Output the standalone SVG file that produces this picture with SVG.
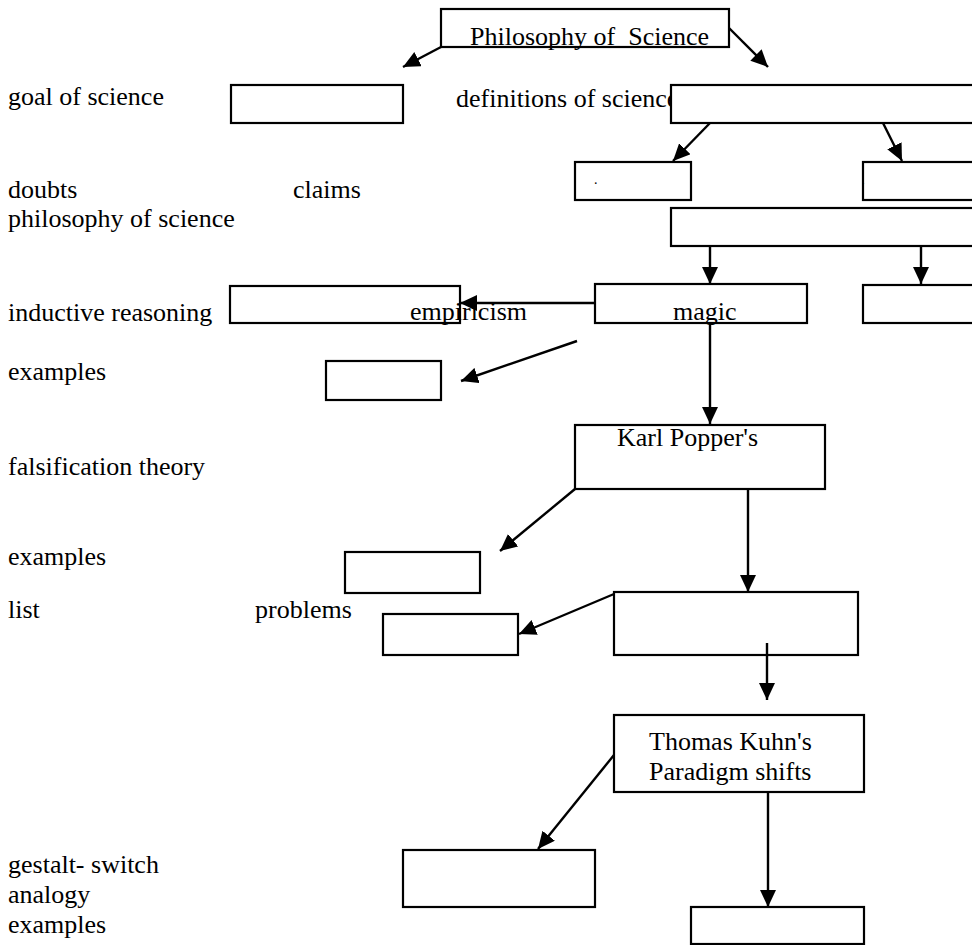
<svg xmlns="http://www.w3.org/2000/svg" width="972" height="945" viewBox="0 0 972 945">
<style>
  rect.box { fill: #ffffff; stroke: #000000; stroke-width: 2.2; }
  text { font-family: 'Liberation Serif', 'Times New Roman', 'DejaVu Serif', serif; font-size: 26px; fill: #000000; white-space: pre; }
  .conn line { stroke: #000000; stroke-width: 2.4; marker-end: url(#arrow); }
</style>
<defs>
  <marker id="arrow" markerUnits="userSpaceOnUse" markerWidth="18" markerHeight="16" refX="17" refY="8" orient="auto">
    <path d="M0,0 L17,8 L0,16 z" fill="#000000"/>
  </marker>
</defs>
<rect width="972" height="945" fill="#ffffff"/>

<g id="labels" font-family="Liberation Serif, Times New Roman, serif">
  <text x="8" y="105">goal of science</text>
  <text x="456" y="107">definitions of science</text>
  <text x="8" y="198">doubts</text>
  <text x="293" y="198">claims</text>
  <text x="8" y="227">philosophy of science</text>
  <text x="8" y="321">inductive reasoning</text>
  <text x="8" y="380">examples</text>
  <text x="8" y="475">falsification theory</text>
  <text x="8" y="565">examples</text>
  <text x="8" y="618">list</text>
  <text x="255" y="618">problems</text>
  <text x="8" y="873">gestalt- switch</text>
  <text x="8" y="903">analogy</text>
  <text x="8" y="933">examples</text>
</g>

<g id="node-philosophy">
  <rect class="box" x="441" y="9" width="288" height="38"/>
  <text x="470" y="45">Philosophy of  Science</text>
</g>
<g id="node-goal"><rect class="box" x="231" y="85" width="172" height="38"/></g>
<g id="node-definitions"><rect class="box" x="671" y="85" width="310" height="38"/></g>
<g id="node-def-left">
  <rect class="box" x="575" y="162" width="116" height="38"/>
  <text x="594" y="184" style="font-size:14px">.</text>
</g>
<g id="node-def-right">
  <rect class="box" x="863" y="162" width="120" height="38"/>
  <text x="862" y="184" style="font-size:10px">.</text>
</g>
<g id="node-wide"><rect class="box" x="671" y="208" width="310" height="38"/></g>
<g id="node-inductive"><rect class="box" x="230" y="286" width="230" height="37"/></g>
<g id="node-magic">
  <rect class="box" x="595" y="284" width="212" height="39"/>
  <text x="673" y="320">magic</text>
</g>
<g id="node-right"><rect class="box" x="863" y="285" width="120" height="38"/></g>
<g id="node-empiricism"><text x="410" y="320">empiricism</text></g>
<g id="node-examples1"><rect class="box" x="326" y="361" width="115" height="39"/></g>
<g id="node-popper">
  <rect class="box" x="575" y="425" width="250" height="64"/>
  <text x="617" y="446">Karl Popper's</text>
</g>
<g id="node-examples2"><rect class="box" x="345" y="552" width="135" height="41"/></g>
<g id="node-box3"><rect class="box" x="614" y="592" width="244" height="63"/></g>
<g id="node-problems"><rect class="box" x="383" y="614" width="135" height="41"/></g>
<g id="node-kuhn">
  <rect class="box" x="614" y="715" width="250" height="77"/>
  <text x="649" y="750">Thomas Kuhn's</text>
  <text x="649" y="780">Paradigm shifts</text>
</g>
<g id="node-gestalt"><rect class="box" x="403" y="850" width="192" height="57"/></g>
<g id="node-bottom"><rect class="box" x="691" y="907" width="173" height="37"/></g>

<g id="connectors" class="conn">
  <line x1="441" y1="47" x2="403" y2="67"/>
  <line x1="729" y1="28" x2="768" y2="67"/>
  <line x1="710" y1="123" x2="673" y2="161"/>
  <line x1="883" y1="123" x2="902" y2="161"/>
  <line x1="710" y1="246" x2="710" y2="284"/>
  <line x1="921" y1="246" x2="921" y2="284"/>
  <line x1="595" y1="303" x2="460" y2="303"/>
  <line x1="577" y1="341" x2="461" y2="381"/>
  <line x1="710" y1="323" x2="710" y2="424"/>
  <line x1="575" y1="489" x2="500" y2="551"/>
  <line x1="748" y1="489" x2="748" y2="592"/>
  <line x1="614" y1="594" x2="519" y2="634"/>
  <line x1="767" y1="643" x2="767" y2="700"/>
  <line x1="614" y1="755" x2="538" y2="849"/>
  <line x1="768" y1="792" x2="768" y2="907"/>
</g>
</svg>
